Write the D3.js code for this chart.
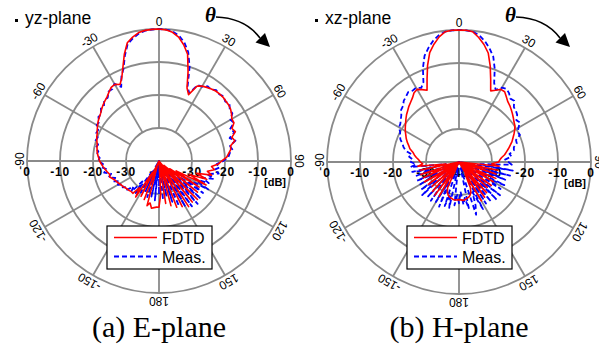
<!DOCTYPE html>
<html>
<head>
<meta charset="utf-8">
<script src="https://cdn.jsdelivr.net/npm/d3@7"></script>
<style>
  body { margin: 0; background: #fff; }
</style>
</head>
<body>
<div id="chart"></div>
<script>
const width = 599, height = 356;
const R = 132; // outer ring radius (0 dB)

// sample angles in degrees, -180 .. 177, one value per 3 degrees
const angles = d3.range(-180, 180, 3);

// E-plane (yz-plane), dB
const ePlaneFdtd = [
  -26, -26, -25.8, -25.5, -27, -26, -38, -27.5, -40, -28,
  -36, -27, -30, -27.4, -27.5, -27.3, -27.2, -27, -26.7, -26.5,
  -26.2, -25.8, -25.5, -25, -24.3, -24.5, -24, -23.5, -23, -22.5,
  -22, -21.7, -21.3, -21, -20.8, -20.6, -20.2, -19.8, -19.5, -19,
  -18.5, -18, -17.6, -17.2, -16.6, -16, -15.5, -15, -14.2, -13.4,
  -13.2, -14, -12.3, -9.5, -6, -2.9, -1.6, -0.6, -0.2, -0.05,
  0, -0.2, -0.8, -2, -4, -6.5, -11.5, -16.3, -18, -14.5,
  -13.8, -13.4, -13, -12.7, -12.6, -12.6, -12.8, -12.9, -13.2, -13.8,
  -14.5, -14.5, -15.8, -15.2, -16.8, -16.2, -17.8, -18, -18.8, -19.5,
  -21, -22, -24, -23, -25, -23.5, -28, -24.5, -30, -24,
  -34, -25.5, -36, -25, -38, -23.5, -36, -24, -40, -23.5,
  -37, -24.5, -40, -25, -38, -26, -40, -27, -40, -30
];
const ePlaneMeas = [
  -30, -40, -28, -37, -29, -40, -28.5, -38, -30, -40,
  -29, -36, -28, -32, -27.5, -29, -27, -27.5, -26.4, -27,
  -25.6, -26.5, -24.8, -25.8, -24, -25, -23, -24, -22.3, -23,
  -21.6, -22, -21, -21.4, -20.4, -20.9, -19.8, -20.1, -19.2, -19.3,
  -18.2, -18.4, -17.3, -17.5, -16.3, -16.4, -15.2, -15.3, -14, -14,
  -13, -14.8, -12, -10, -6.5, -3.3, -2, -0.9, -0.3, -0.1,
  0, -0.1, -0.5, -1.5, -3.2, -5.8, -10, -15.8, -17.5, -14.2,
  -14, -13, -13.2, -12.4, -12.8, -12.3, -13, -12.5, -13.5, -13.5,
  -15, -14.5, -16.5, -15.5, -17.5, -16, -18, -17.5, -18.5, -19,
  -20.5, -22.5, -21.5, -23, -21.5, -25, -22.5, -26, -23.5, -28,
  -22.8, -30, -23.5, -35, -23, -33, -22.5, -37, -23, -35,
  -24, -38, -25, -36, -27, -40, -29, -38, -28, -40
];

// H-plane (xz-plane), dB
const hPlaneFdtd = [
  -28.6, -28.5, -28.4, -28.5, -28.8, -29, -29.4, -30.2, -31.5, -40,
  -28, -36, -27.6, -40, -28, -37, -29, -40, -28.5, -35,
  -28, -40, -28.2, -34, -27.8, -40, -28, -36, -27.5, -29,
  -28.3, -27.8, -27, -26.3, -25.7, -24.6, -24, -23.2, -22.5, -21.9,
  -21.2, -20.6, -20, -19.3, -18.6, -18, -17.3, -16.7, -16, -15,
  -14.6, -15.4, -16.2, -13, -9.2, -5.7, -3.5, -1.6, -0.3, 0,
  0, 0, -0.3, -1.8, -3.6, -5.8, -9.4, -13.2, -16.4, -15.6,
  -14.6, -14.6, -15.6, -16.5, -17, -17.6, -18.2, -18.8, -19.4, -19.8,
  -20.5, -21.3, -22.1, -22.8, -23.7, -24.5, -25.3, -26, -27, -27.6,
  -28, -30, -27.8, -40, -28, -36, -28.2, -40, -27.8, -34,
  -28, -40, -27.9, -37, -28.5, -40, -27.5, -35, -26.8, -40,
  -26.4, -36, -31.5, -30, -29.3, -28.9, -28.7, -28.4, -28.3, -28.5
];
const hPlaneMeas = [
  -27.5, -30, -26.8, -38, -25.8, -30, -26, -40, -25.2, -33,
  -26, -40, -25.5, -34, -26, -40, -25, -31, -25.8, -40,
  -26.5, -33, -26, -40, -26.5, -31, -25.5, -36, -25.2, -27,
  -25.4, -26, -24.8, -25.5, -23.5, -22.6, -22, -21, -20.4, -20,
  -19, -18.8, -18.2, -17.5, -16.4, -16, -15, -14.5, -13.8, -14.2,
  -14, -14.8, -13.5, -9.5, -6.2, -4.2, -2.4, -1.1, -0.3, -0.05,
  0, -0.05, -0.25, -1.1, -2.5, -4.3, -6.4, -9.8, -13.8, -15.5,
  -14, -13.6, -14.2, -15.3, -15, -16.5, -16.8, -17.3, -18.5, -18,
  -19.2, -20, -19.8, -21.5, -21.6, -22.8, -23, -24.5, -24, -26,
  -25, -24, -34, -23.5, -40, -24, -33, -25, -40, -24.6,
  -30, -25, -40, -24, -33, -23.8, -40, -24.5, -35, -25,
  -40, -24, -30, -26, -23.2, -38, -25.5, -29, -27, -31
];

const spokeAngles = [0, 30, 60, 90, 120, 150, 180, -150, -120, -90, -60, -30];
const ringLevels = [0, -10, -20, -30];
const dbTicks = [0, -10, -20, -30, -40];

const panels = [
  { cx: 159, cy: 161, plane: "yz-plane", caption: "(a) E-plane", fdtd: ePlaneFdtd, meas: ePlaneMeas },
  { cx: 459, cy: 162, plane: "xz-plane", caption: "(b) H-plane", fdtd: hPlaneFdtd, meas: hPlaneMeas }
];

const gridColor = "#8a8a8a";
const sans = "'Liberation Sans', Arial, sans-serif";
const serif = "'Liberation Serif', 'Times New Roman', serif";
const rad = d => d * Math.PI / 180;

const r = d3.scaleLinear().domain([-40, 0]).range([0, R]).clamp(true);

const line = d3.lineRadial()
  .angle(d => rad(d[0]))
  .radius(d => r(d[1]))
  .curve(d3.curveLinearClosed);

const svg = d3.select("#chart").append("svg")
  .attr("width", width)
  .attr("height", height)
  .attr("viewBox", `0 0 ${width} ${height}`)
  .style("font-family", sans);

svg.append("rect").attr("width", width).attr("height", height).attr("fill", "#fff");

function drawPanel(p) {
  const g = svg.append("g").attr("transform", `translate(${p.cx},${p.cy})`);

  g.selectAll("circle.ring").data(ringLevels).join("circle")
    .attr("class", "ring")
    .attr("r", d => r(d))
    .attr("fill", "none")
    .attr("stroke", gridColor)
    .attr("stroke-width", 1.8);

  // spokes start at the -30 dB ring, the 90/-90 axis crosses the whole plot
  g.selectAll("line.spoke").data(spokeAngles.filter(a => Math.abs(a) !== 90)).join("line")
    .attr("class", "spoke")
    .attr("x1", a => r(-30) * Math.sin(rad(a)))
    .attr("y1", a => -r(-30) * Math.cos(rad(a)))
    .attr("x2", a => R * Math.sin(rad(a)))
    .attr("y2", a => -R * Math.cos(rad(a)))
    .attr("stroke", gridColor)
    .attr("stroke-width", 1.8);

  g.append("line")
    .attr("x1", -R).attr("x2", R)
    .attr("y1", 0).attr("y2", 0)
    .attr("stroke", gridColor)
    .attr("stroke-width", 1.8);

  g.selectAll("text.ang").data(spokeAngles).join("text")
    .attr("class", "ang")
    .attr("transform", a => `rotate(${a}) translate(0,${-(R + 7.5)})`)
    .attr("text-anchor", "middle")
    .attr("dominant-baseline", "central")
    .attr("font-size", 12)
    .text(a => a);

  const dbLabels = dbTicks.map(v => ({ v, x: -r(v) }))
    .concat(dbTicks.slice(0, 4).reverse().map(v => ({ v, x: r(v) })));

  g.selectAll("text.db").data(dbLabels).join("text")
    .attr("class", "db")
    .attr("x", d => d.x)
    .attr("y", 11)
    .attr("text-anchor", "middle")
    .attr("dominant-baseline", "central")
    .attr("font-size", 12)
    .attr("font-weight", "bold")
    .attr("letter-spacing", 0.8)
    .text(d => d.v);

  g.append("text")
    .attr("x", R - 16)
    .attr("y", 21)
    .attr("text-anchor", "middle")
    .attr("dominant-baseline", "central")
    .attr("font-size", 11)
    .attr("font-weight", "bold")
    .text("[dB]");

  // patterns
  const pts = vals => angles.map((a, i) => [a, vals[i]]);

  g.append("path")
    .attr("d", line(pts(p.meas)))
    .attr("fill", "none")
    .attr("stroke", "#0000ff")
    .attr("stroke-width", 1.8)
    .attr("stroke-dasharray", "5,3")
    .attr("stroke-linejoin", "round");

  g.append("path")
    .attr("d", line(pts(p.fdtd)))
    .attr("fill", "none")
    .attr("stroke", "#ff0000")
    .attr("stroke-width", 1.6)
    .attr("stroke-linejoin", "round");

  // title and theta arrow
  g.append("rect")
    .attr("x", -144).attr("y", 19 - p.cy)
    .attr("width", 3).attr("height", 3)
    .attr("fill", "#000");

  g.append("text")
    .attr("x", -134)
    .attr("y", 24 - p.cy)
    .attr("font-size", 17.5)
    .text(p.plane);

  g.append("text")
    .attr("x", 46)
    .attr("y", 22 - p.cy)
    .style("font-family", serif)
    .attr("font-style", "italic")
    .attr("font-weight", "bold")
    .attr("font-size", 21)
    .text("θ");

  g.append("path")
    .attr("d", `M57,${17 - p.cy} Q86,${18 - p.cy} 101,${38 - p.cy}`)
    .attr("fill", "none")
    .attr("stroke", "#000")
    .attr("stroke-width", 1.6);

  g.append("path")
    .attr("d", `M111,${47 - p.cy} L96.5,${42.5 - p.cy} L106,${33 - p.cy} Z`)
    .attr("fill", "#000");

  // legend
  const lg = g.append("g").attr("transform", `translate(-52,${226 - p.cy})`);
  lg.append("rect")
    .attr("width", 105).attr("height", 43)
    .attr("fill", "#fff")
    .attr("stroke", "#000")
    .attr("stroke-width", 1.2);
  lg.append("line")
    .attr("x1", 7).attr("x2", 50).attr("y1", 11.5).attr("y2", 11.5)
    .attr("stroke", "#ff0000").attr("stroke-width", 1.6);
  lg.append("text").attr("x", 55).attr("y", 17.5).attr("font-size", 16).text("FDTD");
  lg.append("line")
    .attr("x1", 7).attr("x2", 50).attr("y1", 30.5).attr("y2", 30.5)
    .attr("stroke", "#0000ff").attr("stroke-width", 1.8).attr("stroke-dasharray", "5,3");
  lg.append("text").attr("x", 55).attr("y", 36.5).attr("font-size", 16).text("Meas.");

  svg.append("text")
    .attr("x", p.cx)
    .attr("y", 337)
    .attr("text-anchor", "middle")
    .style("font-family", serif)
    .attr("font-size", 30)
    .text(p.caption);
}

panels.forEach(drawPanel);
</script>
</body>
</html>
